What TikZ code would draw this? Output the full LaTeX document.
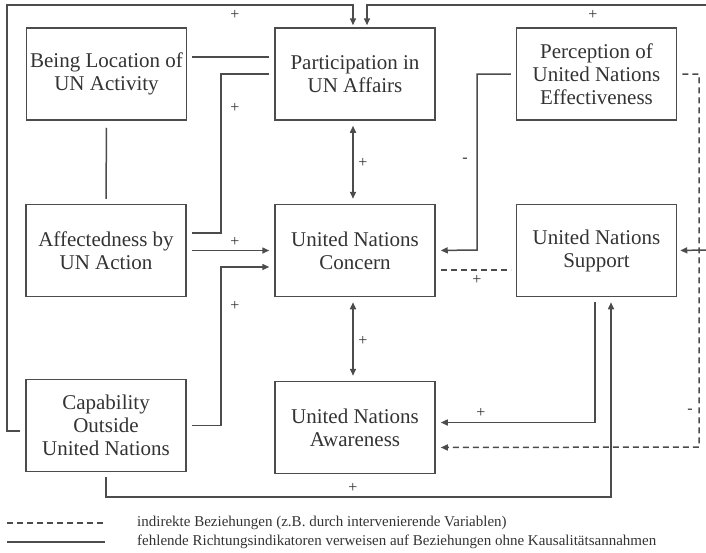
\documentclass[tikz,border=0pt]{standalone}
\usepackage{fontspec}
\setmainfont{Liberation Serif}
\usetikzlibrary{arrows.meta}
\definecolor{ln}{rgb}{0.3,0.3,0.3}
\definecolor{tx}{rgb}{0.2,0.2,0.2}
\begin{document}
\begin{tikzpicture}[x=1pt,y=-1pt,
  box/.style={draw=ln,line width=1.5pt,minimum width=160pt,minimum height=92pt,align=center,text=tx,font=\fontsize{21}{23}\selectfont,inner sep=0pt},
  conn/.style={draw=ln,line width=1.5pt,shorten <=5pt,shorten >=5pt},
  arr/.style={conn,-{Triangle[length=7pt,width=6pt]}},
  darr/.style={conn,{Triangle[length=7pt,width=6pt]}-{Triangle[length=7pt,width=6pt]}},
  ind/.style={dash pattern=on 6pt off 4pt},
  sign/.style={text=tx,font=\fontsize{16}{17}\selectfont,inner sep=0pt},
  leg/.style={text=tx,font=\fontsize{15}{16}\selectfont,anchor=west,inner sep=0pt}]
\useasboundingbox (0,0) rectangle (706,552);

% boxes
\node[box] (loc) at (106.5,74) {Being Location of\\UN Activity};
\node[box] (part) at (355,74) {Participation in\\UN Affairs};
\node[box] (per) at (596.5,74) {Perception of\\United Nations\\Effectiveness};
\node[box] (aff) at (106,250.5) {Affectedness by\\UN Action};
\node[box] (con) at (355,250.5) {United Nations\\Concern};
\node[box] (sup) at (596.5,250.5) {United Nations\\Support};
\node[box] (cap) at (106,425.5) {Capability\\Outside\\United Nations};
\node[box] (awa) at (355,427.5) {United Nations\\Awareness};

% bend / free coordinates
\coordinate (tl) at (7,5);
\coordinate (tr) at (706,5);
\coordinate (rr) at (706,250);
\coordinate (m1) at (221,74);
\coordinate (m2) at (221,267);
\coordinate (b1) at (611,497);
\coordinate (m4) at (477,250);
\coordinate (m5) at (699,447);

% connectors
\draw[arr,shorten >=2pt] ([yshift=-5.5pt]cap.west) -| (tl) -| ([xshift=-2pt]part.north);
\draw[arr,shorten <=0pt,shorten >=2pt] (tr) -| ([xshift=12pt]part.north);
\draw[arr,shorten <=0pt,shorten >=3pt] (rr) -- (sup.east);
\draw[conn] ([yshift=17pt]loc.east) -- ([yshift=17pt]part.west);
\draw[conn,shorten <=7pt] (loc.south) -- (aff.north);
\draw[conn] ([yshift=17.5pt]aff.east) -| (m1) -- (part.west);
\draw[arr] (aff.east) -- (con.west);
\draw[arr] (cap.east) -| (m2) -- ([yshift=-16.5pt]con.west);
\draw[arr] (cap.south) |- (b1) -- ([xshift=14.5pt]sup.south);
\draw[darr] ([xshift=-2pt]part.south) -- ([xshift=-2pt]con.north);
\draw[darr] ([xshift=-2pt]con.south) -- ([xshift=-2pt]awa.north);
\draw[arr] (per.west) -| (m4) -- (con.east);
\draw[conn,ind] ([yshift=-19.5pt]con.east) -- ([yshift=-19.5pt]sup.west);
\draw[arr] ([xshift=-1.5pt]sup.south) |- ([yshift=5pt]awa.east);
\draw[arr,ind] (per.east) -| (m5) -- ([yshift=-20pt]awa.east);

% signs
\node[sign] (s1) at (235,15) {+};
\node[sign] (s2) at (593,15) {+};
\node[sign] (s3) at (235,108) {+};
\node[sign] (s4) at (363,163) {+};
\node[sign] (s5) at (465,160) {-};
\node[sign] (s6) at (235,242) {+};
\node[sign] (s7) at (235,306) {+};
\node[sign] (s8) at (477,280) {+};
\node[sign] (s9) at (363,341) {+};
\node[sign] (s10) at (481,413) {+};
\node[sign] (s11) at (690,411) {-};
\node[sign] (s12) at (353,488) {+};

% legend
\coordinate (d1) at (7,523);
\coordinate (d2) at (105,523);
\coordinate (e1) at (7,542);
\coordinate (e2) at (105,542);
\draw[ln,line width=1.5pt,ind] (d1) -- (d2);
\draw[ln,line width=1.5pt] (e1) -- (e2);
\node[leg] (legA) at (137,523) {indirekte Beziehungen (z.B. durch intervenierende Variablen)};
\node[leg] (legB) at (137,542) {fehlende Richtungsindikatoren verweisen auf Beziehungen ohne Kausalitätsannahmen};
\end{tikzpicture}
\end{document}
